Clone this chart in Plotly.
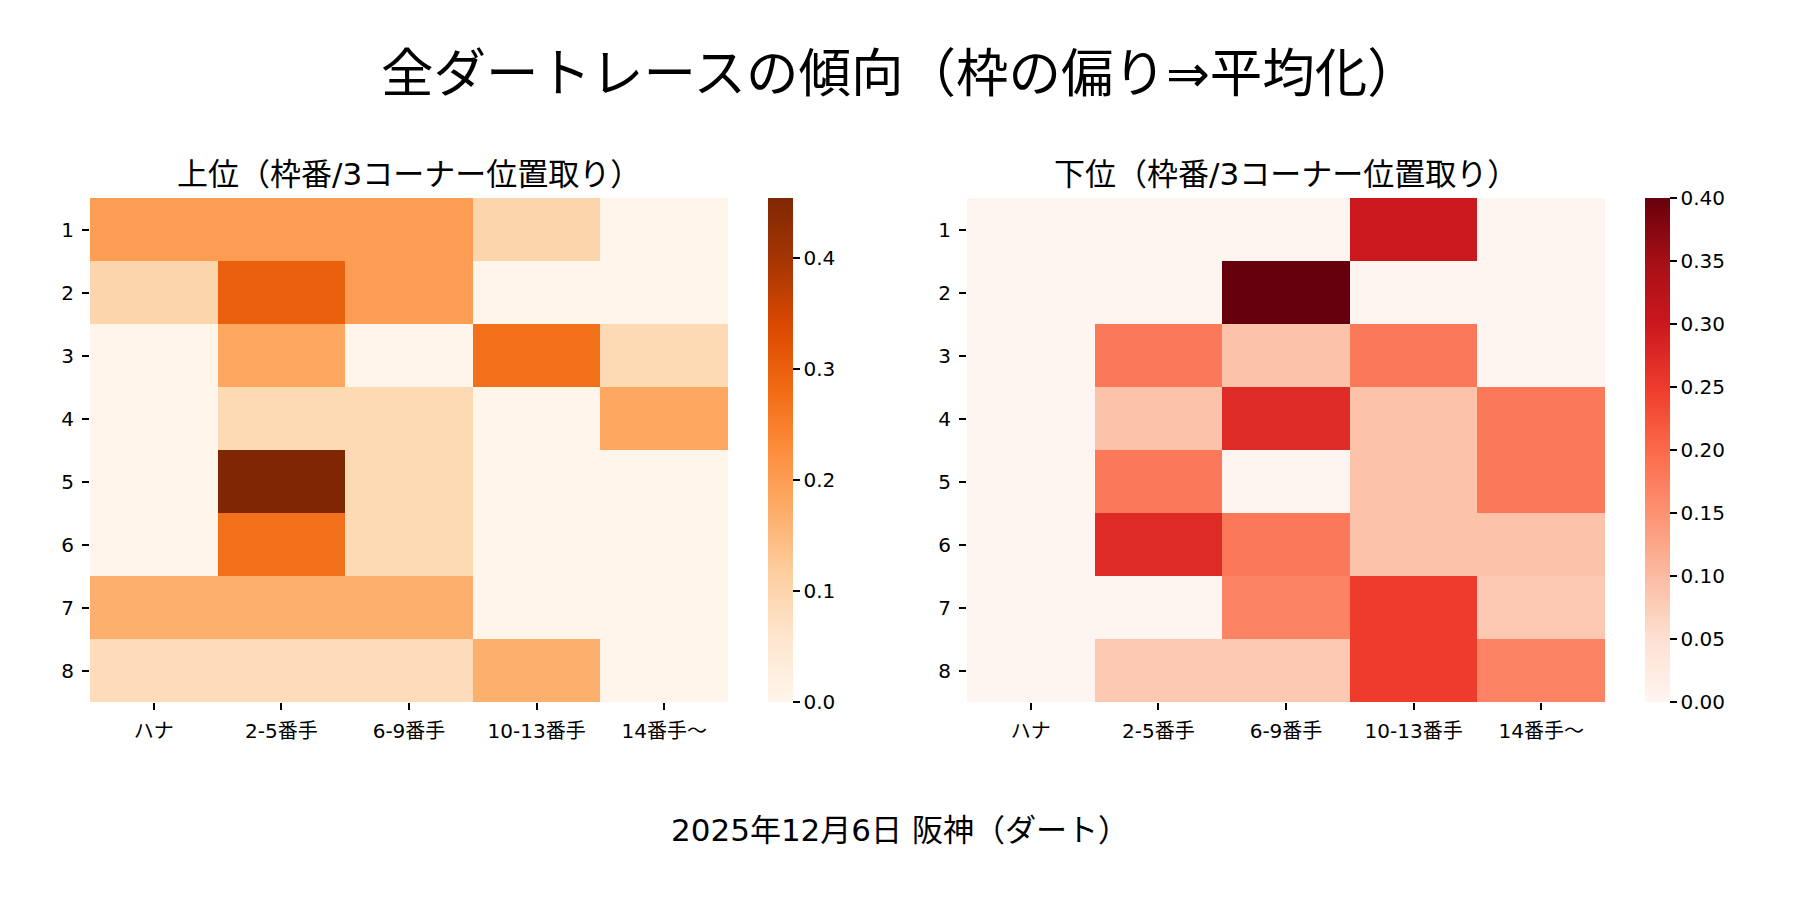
import plotly.graph_objects as go

W, H = 1800, 900

columns = ["ハナ", "2-5番手", "6-9番手", "10-13番手", "14番手〜"]
rows = ["1", "2", "3", "4", "5", "6", "7", "8"]

top_vals = [
    [0.200, 0.200, 0.200, 0.100, 0.000],
    [0.100, 0.300, 0.200, 0.000, 0.000],
    [0.000, 0.182, 0.000, 0.273, 0.091],
    [0.000, 0.091, 0.091, 0.000, 0.182],
    [0.000, 0.4545, 0.091, 0.000, 0.000],
    [0.000, 0.273, 0.091, 0.000, 0.000],
    [0.167, 0.167, 0.167, 0.000, 0.000],
    [0.083, 0.083, 0.083, 0.167, 0.000],
]
bottom_vals = [
    [0.000, 0.000, 0.000, 0.300, 0.000],
    [0.000, 0.000, 0.400, 0.000, 0.000],
    [0.000, 0.182, 0.091, 0.182, 0.000],
    [0.000, 0.091, 0.273, 0.091, 0.182],
    [0.000, 0.182, 0.000, 0.091, 0.182],
    [0.000, 0.273, 0.182, 0.091, 0.091],
    [0.000, 0.000, 0.167, 0.250, 0.083],
    [0.000, 0.083, 0.083, 0.250, 0.167],
]
top_ticks = [0.0, 0.1, 0.2, 0.3, 0.4]
bottom_ticks = [0.0, 0.05, 0.10, 0.15, 0.20, 0.25, 0.30, 0.35, 0.40]

title_text = "全ダートレースの傾向（枠の偏り⇒平均化）"
sub_left = "上位（枠番/3コーナー位置取り）"
sub_right = "下位（枠番/3コーナー位置取り）"
footer = "2025年12月6日 阪神（ダート）"

FONT = "DejaVu Sans, Noto Sans CJK JP"

# pixel layout
L1, R1 = 90, 728
L2, R2 = 967, 1605
T, B = 198, 702
CB1, CB2 = 768, 1645
CBW = 25

def px(x):
    return x / W

def py(y):
    return 1 - y / H

fig = go.Figure()

def cbar(x0, ticks, fmt):
    return dict(
        x=px(x0), xanchor="left", xpad=0, ypad=0,
        y=0.5, yanchor="middle",
        len=B - T, lenmode="pixels",
        thickness=CBW, thicknessmode="pixels",
        outlinewidth=0,
        tickvals=ticks, tickformat=fmt,
        ticks="outside", ticklen=7, tickwidth=1.5, tickcolor="#000",
        tickfont=dict(family=FONT, size=20, color="#000"),
    )

fig.add_trace(go.Heatmap(
    z=top_vals, x=columns, y=rows, colorscale="Oranges",
    zmin=0, zmax=0.4545, xaxis="x", yaxis="y",
    colorbar=cbar(CB1, top_ticks, ".1f"),
))
fig.add_trace(go.Heatmap(
    z=bottom_vals, x=columns, y=rows, colorscale="Reds",
    zmin=0, zmax=0.40, xaxis="x2", yaxis="y2",
    colorbar=cbar(CB2, bottom_ticks, ".2f"),
))

axis_common = dict(
    showgrid=False, zeroline=False, showline=False,
    ticks="outside", ticklen=7, tickwidth=1.5, tickcolor="#000",
    tickfont=dict(family=FONT, size=20, color="#000"),
    type="category", ticklabelstandoff=4,
)

fig.update_layout(
    width=W, height=H,
    margin=dict(l=0, r=0, t=0, b=0),
    paper_bgcolor="white", plot_bgcolor="white",
    font=dict(family=FONT, color="#000"),
    xaxis=dict(domain=[px(L1), px(R1)], anchor="y", **axis_common),
    yaxis=dict(domain=[py(B), py(T)], anchor="x", autorange="reversed", **axis_common),
    xaxis2=dict(domain=[px(L2), px(R2)], anchor="y2", **axis_common),
    yaxis2=dict(domain=[py(B), py(T)], anchor="x2", autorange="reversed", **axis_common),
    annotations=[
        dict(text=title_text, x=0.5, y=py(73), xref="paper", yref="paper",
             xanchor="center", yanchor="middle", showarrow=False,
             font=dict(family=FONT, size=52.5, color="#000")),
        dict(text=sub_left, x=px((L1 + R1) / 2), y=py(174), xref="paper", yref="paper",
             xanchor="center", yanchor="middle", showarrow=False,
             font=dict(family=FONT, size=31, color="#000")),
        dict(text=sub_right, x=px((L2 + R2) / 2), y=py(174), xref="paper", yref="paper",
             xanchor="center", yanchor="middle", showarrow=False,
             font=dict(family=FONT, size=31, color="#000")),
        dict(text=footer, x=0.5, y=py(830), xref="paper", yref="paper",
             xanchor="center", yanchor="middle", showarrow=False,
             font=dict(family=FONT, size=31, color="#000")),
    ],
)

fig.write_html("out.html", config={"displayModeBar": False},
               post_script="document.body.style.margin='0px';")
